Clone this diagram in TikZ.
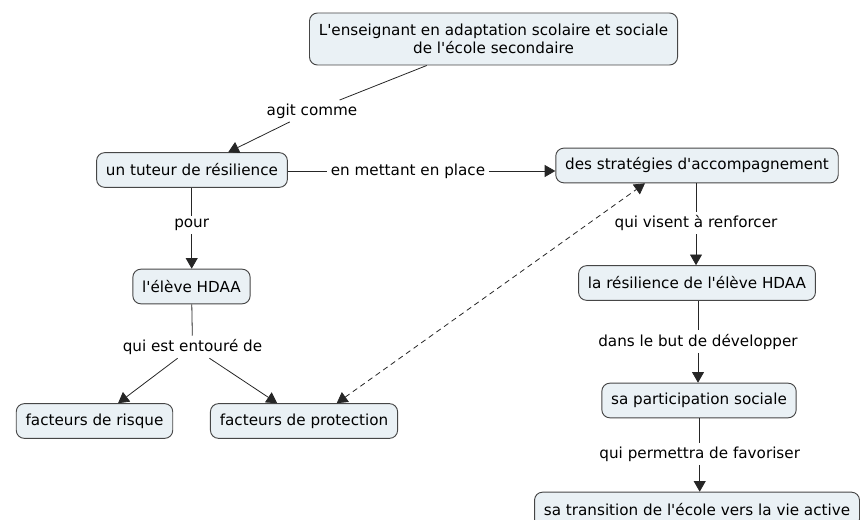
\documentclass[tikz,border=0pt]{standalone}
\usepackage{fontspec}
\setmainfont{DejaVu Sans}[Ligatures=TeXOff]
\usetikzlibrary{arrows.meta,positioning}

\definecolor{conceptfill}{RGB}{234,241,245}
\definecolor{conceptline}{RGB}{70,70,70}

\begin{document}
\begin{tikzpicture}[x=0.75pt,y=-0.75pt,
	concept/.style={draw=conceptline,fill=conceptfill,rounded corners=6pt,line width=0.7pt,
		inner xsep=7pt,minimum height=26pt,font=\fontsize{11.4}{13.2}\selectfont,align=center},
	linkword/.style={inner sep=2.5pt,font=\fontsize{11.4}{13.2}\selectfont},
	link/.style={line width=0.6pt,draw=black!85},
	linkarr/.style={link,-{Triangle[width=9pt,length=8pt]}}]
	\clip (0,0) rectangle (862,520);
	%
	\node[concept,minimum height=39pt] (ens) at (493.5,39) {L'enseignant en adaptation scolaire et sociale\\de l'école secondaire};
	\node[concept] (tut) at (192,170) {un tuteur de résilience};
	\node[concept] (strat) at (697,165.5) {des stratégies d'accompagnement};
	\node[concept] (hdaa) at (191.5,286.5) {l'élève HDAA};
	\node[concept] (risq) at (94.5,421) {facteurs de risque};
	\node[concept] (prot) at (304,421) {facteurs de protection};
	\node[concept] (resil) at (697,283) {la résilience de l'élève HDAA};
	\node[concept] (part) at (699,400.5) {sa participation sociale};
	\node[concept] (trans) at (697,509.5) {sa transition de l'école vers la vie active};
	%
	\node[linkword] (agit) at (312,111) {agit comme};
	\node[linkword] (mett) at (408,171) {en mettant en place};
	\node[linkword] (pour) at (191.7,225) {pour};
	\node[linkword] (ento) at (192.5,347) {qui est entouré de};
	\node[linkword] (vise) at (696,223) {qui visent à renforcer};
	\node[linkword] (but) at (698,341.7) {dans le but de développer};
	\node[linkword] (perm) at (699.7,454) {qui permettra de favoriser};
	%
	\draw[link] (ens) -- (agit);
	\draw[linkarr] (agit) -- (tut);
	\draw[link] (tut.east |- mett) -- (mett);
	\draw[linkarr] (mett) -- (mett -| strat.west);
	\draw[link] (tut.south -| pour) -- (pour);
	\draw[linkarr] (pour) -- (hdaa.north -| pour);
	\draw[link] (hdaa) -- (ento);
	\draw[linkarr] (ento) -- (risq);
	\draw[linkarr] (ento) -- (prot);
	\draw[link] (strat.south -| vise) -- (vise);
	\draw[linkarr] (vise) -- (resil.north -| vise);
	\draw[link] (resil.south -| but) -- (but);
	\draw[linkarr] (but) -- (part.north -| but);
	\draw[link] (part.south -| perm) -- (perm);
	\draw[linkarr] (perm) -- (trans.north -| perm);
	% lien en pointillé
	\draw[link,dash pattern=on 4pt off 3pt,{Triangle[width=9pt,length=8pt]}-{Triangle[width=9pt,length=8pt]}]
		([xshift=-46pt]prot.north east) -- ([xshift=-39pt]strat.south);
\end{tikzpicture}
\end{document}
